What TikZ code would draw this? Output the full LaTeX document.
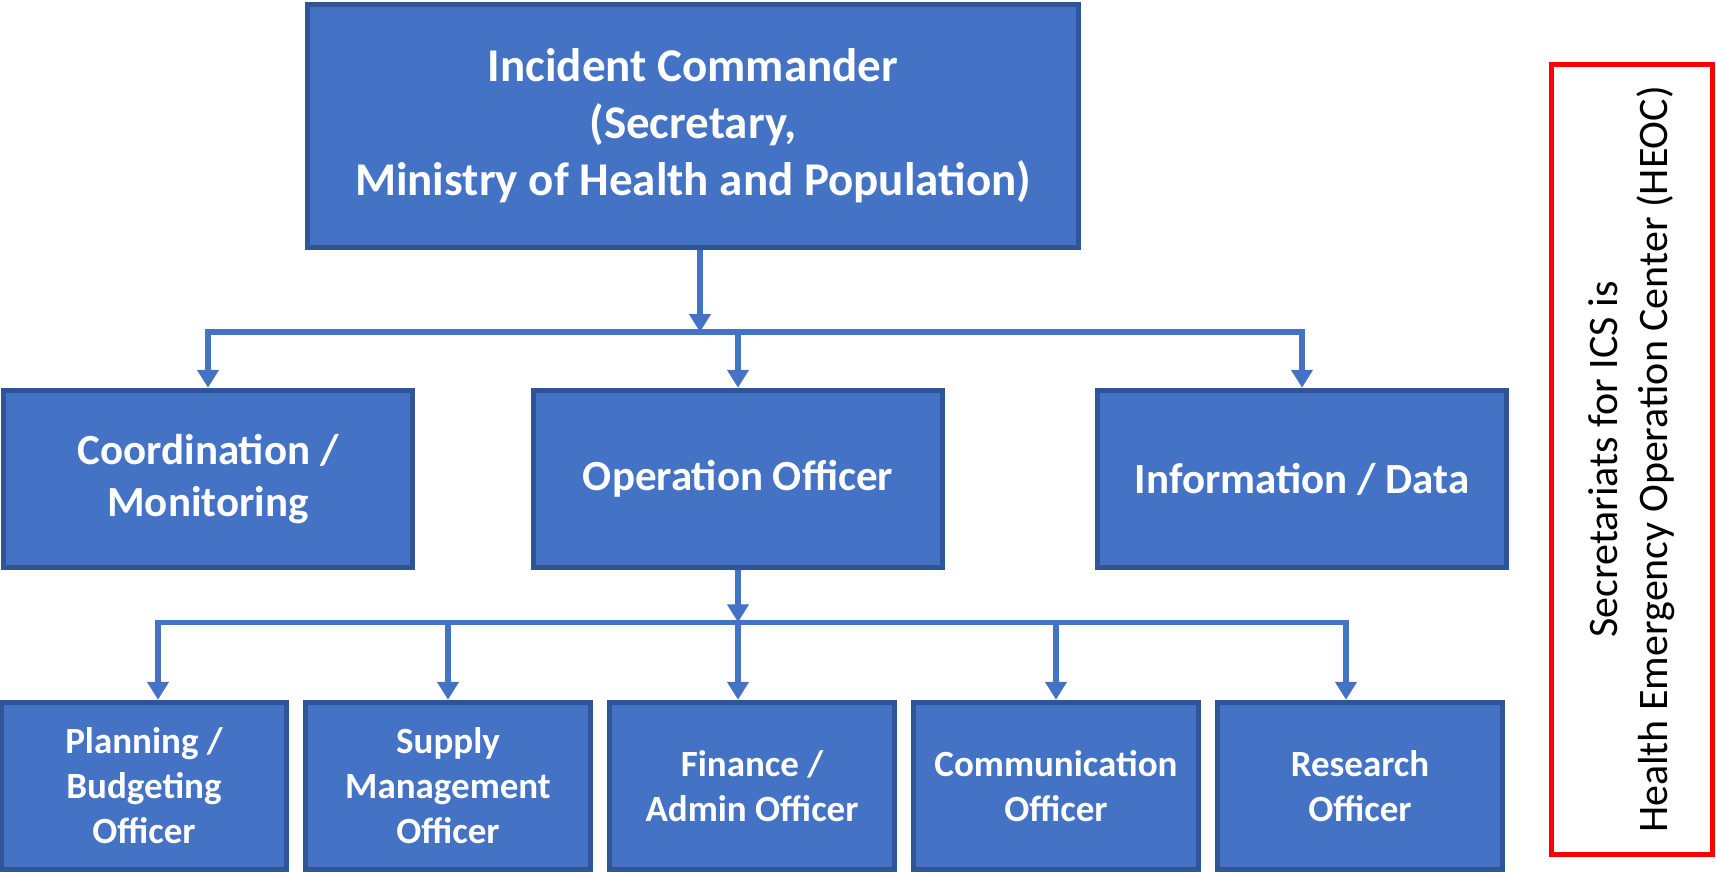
\documentclass[tikz,border=0pt]{standalone}
\usepackage{fontspec}
\setmainfont{Carlito}
\usetikzlibrary{positioning, arrows.meta}
\definecolor{boxfill}{HTML}{4472C4}
\definecolor{boxline}{HTML}{2F5597}
\definecolor{hlred}{HTML}{FF0000}

\begin{document}
\begin{tikzpicture}[x=0.5pt, y=-0.5pt, on grid,
    >={Triangle[length=9pt, width=10.5pt]},
    unit/.style={draw=boxline, fill=boxfill, line width=2.5pt, text=white, align=center, inner sep=0pt},
    head/.style={unit, minimum width=385.5pt, minimum height=121.5pt, font=\bfseries\fontsize{23.5}{28.5}\selectfont},
    branch/.style={unit, minimum width=204.75pt, minimum height=88.75pt, font=\bfseries\fontsize{21.5}{26}\selectfont},
    officer/.style={unit, minimum width=142.75pt, minimum height=83.75pt, font=\bfseries\fontsize{18.5}{22.5}\selectfont},
    link/.style={boxfill, line width=2.6pt},
    elbow/.style={to path={-| (\tikztotarget)}}]

  \useasboundingbox (0,0) rectangle (1716,875);

  \node[head] (cmdr) at (693,126) {Incident Commander\\(Secretary,\\Ministry of Health and Population)};

  % second level
  \node[branch] (ops) [below=176.5pt of cmdr, xshift=22.5pt] {Operation Officer};
  \node[branch] (coord) [left=265pt of ops] {Coordination /\\Monitoring};
  \node[branch] (info) [right=282pt of ops] {Information / Data};

  % officers
  \node[officer] (fin) [below=153.5pt of ops, xshift=7pt] {Finance /\\Admin Officer};
  \node[officer] (supply) [left=152pt of fin] {Supply\\Management\\Officer};
  \node[officer] (plan) [left=152pt of supply] {Planning /\\Budgeting\\Officer};
  \node[officer] (comm) [right=152pt of fin] {Communication\\Officer};
  \node[officer] (res) [right=152pt of comm] {Research\\Officer};

  \node[draw=hlred, line width=2.5pt, rotate=90, minimum width=395pt, minimum height=80.5pt,
        align=center, font=\fontsize{21}{25}\selectfont] (heoc) at (1632,459.5)
        {Secretariats for ICS is\\Health Emergency Operation Center (HEOC)};

  \coordinate[below=41pt of cmdr.south, xshift=3.5pt] (hub1);
  \coordinate[below=26pt of ops.south] (hub2);

  \path[link, ->]
    ([xshift=3.5pt]cmdr.south) edge (hub1)
    (hub1) edge[elbow] (coord.north)
    (hub1) edge[elbow] (info.north)
    (ops.north |- hub1) edge (ops.north)
    (ops.south) edge (hub2)
    (hub2) edge[elbow] ([xshift=7pt]plan.north)
    (hub2) edge[elbow] ([xshift=-7pt]res.north)
    (supply.north |- hub2) edge (supply.north)
    (hub2) edge (hub2 |- fin.north)
    (comm.north |- hub2) edge (comm.north);
\end{tikzpicture}
\end{document}
